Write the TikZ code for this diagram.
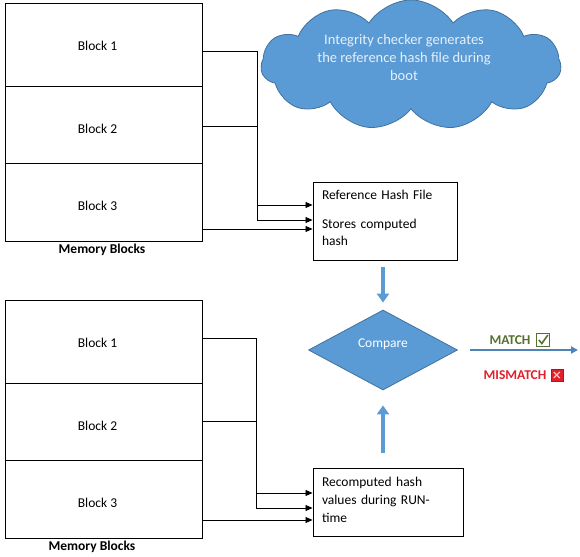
\documentclass[tikz,border=0pt]{standalone}
\usepackage{fontspec}
\setmainfont{Carlito}
\usetikzlibrary{shapes.geometric,shapes.symbols,arrows.meta,positioning,calc}
\definecolor{cloudblue}{HTML}{5B9BD5}
\definecolor{edgeblue}{HTML}{41719C}
\definecolor{okgreen}{HTML}{55702F}
\definecolor{badred}{HTML}{E0202A}
\definecolor{cloudtext}{HTML}{E6EFF8}
\newcommand{\blocktext}[2]{\hspace*{-12pt}\raisebox{-#1pt}[0pt][0pt]{#2}}
\begin{document}
\begin{tikzpicture}[x=1pt,y=-1pt,
  font=\fontsize{13.5}{18}\selectfont,
  block/.style={draw=black,line width=0.9pt,minimum width=197pt,inner sep=0pt},
  box/.style={draw=black,line width=0.9pt,inner ysep=0pt,inner xsep=9pt,align=left},
  conn/.style={draw=black,line width=0.8pt},
  arr/.style={conn,-{Triangle[length=7pt,width=6pt]}},
  fatarr/.style={draw=cloudblue,line width=4.5pt,-{Triangle[length=9pt,width=12pt]}},
  caption/.style={font=\fontsize{13.5}{16}\selectfont\bfseries},
  flag/.style={font=\fontsize{13.5}{16}\selectfont\bfseries,inner sep=0pt},
]
\useasboundingbox (0,0) rectangle (580,556);

% cloud
\node[cloud, cloud puffs=11, cloud puff arc=115, aspect=2.6, fill=cloudblue,
  draw=edgeblue, line width=0.8pt, minimum width=300pt, minimum height=130pt,
  inner sep=0pt] (cloud) at (411,65) {};
\node[text=cloudtext, align=center, inner sep=0pt,
  font=\fontsize{14.5}{18}\selectfont] (cloudtxt) at (404,58)
  {Integrity checker generates\\the reference hash file during\\boot};

% top memory blocks
\node[block, minimum height=83pt] (t1) at (103.5,44.5) {\blocktext{5.9}{Block 1}};
\node[block, minimum height=77pt] (t2) at (103.5,124.5) {\blocktext{8.9}{Block 2}};
\node[block, minimum height=78pt] (t3) at (103.5,202) {\blocktext{8.4}{Block 3}};
\node[caption] (cap1) at (102,250) {Memory Blocks};

% bottom memory blocks
\node[block, minimum height=83pt] (u1) at (103.5,341.5) {\blocktext{5.9}{Block 1}};
\node[block, minimum height=77pt] (u2) at (103.5,421.5) {\blocktext{8.9}{Block 2}};
\node[block, minimum height=78pt] (u3) at (103.5,499) {\blocktext{8.4}{Block 3}};
\node[caption] (cap2) at (92,547) {Memory Blocks};

% boxes
\node[box, text width=126pt, minimum height=78pt, font=\fontsize{13.5}{17}\selectfont] (ref) at (385,221)
  {Reference Hash File\\[12pt]Stores computed\\hash\\[-11pt]\mbox{}};
\node[box, text width=132pt, minimum height=68pt] (rec) at (388,502)
  {Recomputed hash\\values during RUN-\\time\\[-13pt]\mbox{}};

% compare
\node[diamond, fill=cloudblue, draw=edgeblue, line width=0.8pt,
  minimum width=149pt, minimum height=80pt, inner sep=0pt, text=white] (cmp)
  at (383,350) {\raisebox{2.7pt}[0pt][0pt]{Compare}};

% thin connectors
\draw[arr] (t1.east |- 0,51) -| (257,205) -- (ref.west |- 0,205);
\draw[arr] (t2.east |- 0,126) -| (257,220) -- (ref.west |- 0,220);
\draw[arr] (t3.east |- 0,229) -- (ref.west |- 0,229);
\draw[arr] (u1.east |- 0,338) -| (256,493) -- (rec.west |- 0,493);
\draw[arr] (u2.east |- 0,421) -| (256,508) -- (rec.west |- 0,508);
\draw[arr] (u3.east |- 0,520) -- (rec.west |- 0,520);

% block arrows
\draw[fatarr, shorten <=7pt, shorten >=7pt] (ref.south -| cmp.north) -- (cmp.north);
\draw[fatarr, shorten <=15pt, shorten >=15pt] (rec.north -| cmp.south) -- (cmp.south);

% result
\coordinate (mend) at (578,350);
\draw[draw=cloudblue!85!black, line width=1.8pt, shorten <=12pt,
  -{Triangle[length=7pt,width=7pt]}] (cmp.east) -- (mend);
\node[flag, text=okgreen] (match) at (510,340) {MATCH};
\node[draw=okgreen, line width=1.3pt, minimum size=13pt, inner sep=0pt,
  right=5pt of match] (chk) {};
\draw[okgreen, line width=1.6pt] ([xshift=-4pt]chk.center) --
  ([xshift=-1pt,yshift=-3.5pt]chk.center) -- ([xshift=5pt,yshift=5pt]chk.center);
\node[flag, text=badred] (mis) at (515,375) {MISMATCH};
\node[fill=badred, draw=badred!75!black, minimum size=12pt, inner sep=0pt,
  right=4pt of mis] (xbox) {};
\draw[red!25!white, line width=1.3pt] ([shift={(-3pt,-3pt)}]xbox.center) --
  ([shift={(3pt,3pt)}]xbox.center);
\draw[red!25!white, line width=1.3pt] ([shift={(-3pt,3pt)}]xbox.center) --
  ([shift={(3pt,-3pt)}]xbox.center);
\end{tikzpicture}
\end{document}
